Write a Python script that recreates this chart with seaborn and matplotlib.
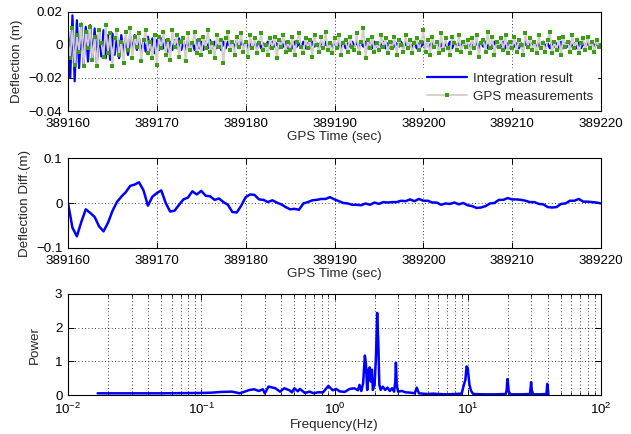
import numpy as np
import pandas as pd
import matplotlib
matplotlib.use("Agg")
import matplotlib.pyplot as plt
import seaborn as sns

# ---------------- data ----------------
t_start, t_end = 389160, 389220

# GPS measurements, mm, every 0.25 s
gps_mm = [
    3, -8, 10, -12, 6, -4, 12, -13, 8, -2, 11, -9, 5, -13, 9, 1, -7, 12, -5, 7,
    -13, 4, 9, -6, 2, -11, 8, -3, 10, -8, 5, -1, 7, -10, 3, 9, -5, 2, -8, 6,
    -12, 5, -2, 8, -6, 3, -9, 9, -1, 6, -7, 2, 4, -10, 7, -3, 1, 8, -5, 3,
    -6, 5, -2, 9, -4, 1, -8, 6, -1, 3, -11, 4, 8, -3, 2, -6, 5, -1, 7, -4,
    2, -7, 6, -2, 4, -5, 1, 7, -3, 0, -6, 4, -2, 5, -8, 3, -1, 6, -4, 2,
    -3, 5, -6, 2, 7, -1, -5, 4, -2, 3, -7, 6, 0, -4, 5, -2, 8, -3, 1, -5,
    4, -2, 6, -6, 1, 3, -4, 5, -1, -3, 7, -5, 2, 10, -8, 3, -2, 5, -4, 1,
    -3, 6, -1, 4, -5, 2, -2, 5, -6, 3, 0, -4, 6, -2, 3, -5, 1, 4, -3, 2,
    9, -4, 3, -6, 5, -1, 2, -5, 7, -3, 4, -2, -6, 5, 1, -3, 6, -4, 2, -1,
    3, -5, 4, -2, 6, -7, 1, 3, -4, 8, -2, 5, -6, 2, -1, 4, -3, 6, -5, 2,
    -2, 5, -4, 3, 0, -6, 7, -1, 4, -3, 2, -5, 6, -2, 1, -4, 3, 8, -5, 2,
    -3, 4, -6, 5, -1, 2, -4, 6, -2, 3, -5, 1, 4, -3, 5, -2, 2, -4, 3, -1, 0,
]

# Integration result, mm, every 0.25 s
integ_mm = [
    8, -20, 18, -22, 15, -14, 13, -12, 11, -10, 12, -9, 10, -11, 8, -7, 9, -8, 6, -9,
    7, -6, 5, -8, 6, -5, 4, -6, 5, -4, 6, -3, 4, -5, 3, -4, 5, -3, 4, -5,
    3, -3, 4, -2, 3, -4, 2, -3, 3, -2, 4, -3, 2, -3, 3, -2, 2, -3, 3, -2,
    2, -3, 2, -2, 3, -2, 2, -2, 1, -3, 2, -2, 2, -1, 2, -2, 3, -2, 2, -1,
    2, -2, 1, -2, 2, -1, 2, -2, 1, -1, 2, -2, 2, -1, 1, -2, 2, -1, 2, -2,
    1, -2, 2, -1, 1, -1, 2, -2, 1, -2, 2, -1, 1, -2, 2, -1, 2, -1, 1, -2,
    2, -1, 1, -2, 2, -2, 1, -1, 2, -1, 2, -2, 1, -1, 2, -2, 1, -2, 2, -1,
    1, -1, 2, -2, 1, -2, 2, -1, 1, -1, 2, -2, 2, -1, 1, -2, 2, -2, 1, -1,
    2, -2, 1, -1, 2, -1, 2, -2, 1, -2, 1, -1, 2, -2, 2, -1, 1, -1, 2, -2,
    1, -2, 2, -1, 2, -2, 1, -1, 2, -2, 1, -2, 2, -1, 1, -1, 2, -2, 1, -2,
    2, -1, 1, -2, 1, -1, 2, -2, 2, -1, 2, -2, 1, -1, 2, -1, 1, -2, 2, -1,
    1, -2, 2, -2, 1, -1, 2, -1, 1, -2, 2, -2, 1, -1, 2, -2, 1, -1, 2, -1, 0,
]

# Deflection difference, m, every 0.5 s
diff_m = [
    0.000, -0.055, -0.074, -0.042, -0.014, -0.022, -0.031, -0.052, -0.063, -0.044,
    -0.018, 0.002, 0.014, 0.024, 0.038, 0.041, 0.046, 0.028, -0.006, 0.014,
    0.022, 0.028, 0.000, -0.019, -0.017, -0.004, 0.008, 0.012, 0.026, 0.019,
    0.027, 0.016, 0.015, 0.007, 0.010, 0.002, -0.004, -0.020, -0.021, -0.006,
    0.013, 0.019, 0.018, 0.008, 0.007, 0.002, 0.006, 0.001, -0.003, -0.009,
    -0.014, -0.013, -0.015, -0.001, 0.002, 0.006, 0.007, 0.009, 0.009, 0.013,
    0.008, 0.004, 0.000, -0.001, -0.004, -0.004, -0.005, -0.001, -0.004, 0.001,
    -0.002, 0.002, 0.001, 0.002, 0.002, 0.005, 0.004, 0.008, 0.004, 0.009,
    0.005, 0.005, 0.001, 0.001, -0.004, -0.001, -0.002, 0.001, -0.003, 0.000,
    -0.005, -0.007, -0.011, -0.010, -0.007, -0.001, 0.000, 0.007, 0.007, 0.011,
    0.008, 0.008, 0.007, 0.005, 0.002, 0.002, -0.002, -0.003, -0.009, -0.010,
    -0.009, -0.002, -0.001, 0.005, 0.005, 0.009, 0.003, 0.003, 0.002, 0.001,
    -0.001,
]

# Spectrum
freq_hz = [
    0.0167, 0.03, 0.05, 0.07, 0.10, 0.12, 0.14, 0.17, 0.195, 0.23,
    0.25, 0.27, 0.29, 0.30, 0.32, 0.36, 0.39, 0.42, 0.46, 0.48,
    0.50, 0.53, 0.55, 0.60, 0.65, 0.70, 0.75, 0.82, 0.90, 0.97,
    1.03, 1.09, 1.19, 1.30, 1.41, 1.50, 1.54, 1.59, 1.64, 1.69,
    1.72, 1.76, 1.80, 1.84, 1.87, 1.91, 1.94, 2.00, 2.05, 2.09,
    2.13, 2.17, 2.22, 2.30, 2.40, 2.50, 2.60, 2.70, 2.80, 2.86,
    2.89, 2.93, 3.00, 3.20, 3.40, 3.70, 4.00, 4.14, 4.30, 4.60,
    5.0, 5.5, 6.0, 7.0, 8.0, 9.0, 9.35, 9.6, 9.8, 10.0,
    10.3, 10.6, 11.0, 13.0, 16.0, 19.3, 19.6, 19.8, 20.0, 20.3,
    21.0, 25.0, 29.3, 29.7, 29.9, 30.2, 31.0, 35.0, 39.0, 39.5,
    39.8, 40.3,
]
power = [
    0.05, 0.05, 0.05, 0.055, 0.06, 0.07, 0.09, 0.10, 0.05, 0.15,
    0.17, 0.12, 0.17, 0.05, 0.25, 0.20, 0.10, 0.20, 0.14, 0.08,
    0.20, 0.11, 0.18, 0.06, 0.10, 0.05, 0.08, 0.08, 0.27, 0.14,
    0.18, 0.11, 0.09, 0.18, 0.20, 0.14, 0.30, 0.12, 0.35, 1.17,
    0.95, 0.15, 0.75, 0.82, 0.40, 0.75, 0.15, 0.30, 1.20, 2.44,
    1.60, 0.30, 0.15, 0.25, 0.15, 0.22, 0.12, 0.20, 0.10, 0.40,
    0.96, 0.30, 0.10, 0.12, 0.08, 0.07, 0.05, 0.22, 0.05, 0.04,
    0.03, 0.04, 0.03, 0.02, 0.03, 0.04, 0.30, 0.45, 0.85, 0.80,
    0.30, 0.12, 0.03, 0.02, 0.02, 0.03, 0.15, 0.47, 0.40, 0.10,
    0.02, 0.02, 0.03, 0.25, 0.38, 0.15, 0.02, 0.02, 0.03, 0.33,
    0.25, 0.02,
]

# ---------------- style ----------------
sns.set_theme(style="white")
plt.rcParams["font.family"] = ["Liberation Sans", "DejaVu Sans"]
FS = 9.6
plt.rcParams["font.size"] = FS
plt.rcParams["axes.labelsize"] = FS
plt.rcParams["xtick.labelsize"] = FS
plt.rcParams["ytick.labelsize"] = FS
plt.rcParams["legend.fontsize"] = FS
plt.rcParams["mathtext.fontset"] = "custom"
plt.rcParams["mathtext.rm"] = "Liberation Sans"
plt.rcParams["mathtext.it"] = "Liberation Sans:italic"

BLUE = "#0000ff"
GRAY = "#d2cec8"
GREEN = "#3c9e14"
GRID = dict(color="black", linestyle=(0, (1, 3)), linewidth=0.6)

fig = plt.figure(figsize=(6.31, 4.34), dpi=100)
L, W = 68 / 631, 533 / 631
ax1 = fig.add_axes([L, 323 / 434, W, 99 / 434])
ax2 = fig.add_axes([L, 186 / 434, W, 90 / 434])
ax3 = fig.add_axes([L, 39 / 434, W, 101 / 434])


def style_axis(ax):
    for s in ax.spines.values():
        s.set_color("black")
        s.set_linewidth(0.8)
    ax.tick_params(direction="in", which="both", top=True, right=True,
                   bottom=True, left=True, colors="black", labelsize=FS)
    ax.tick_params(which="major", length=4, width=0.7)
    ax.tick_params(which="minor", length=2, width=0.6)
    ax.tick_params(axis="x", pad=5)
    ax.tick_params(axis="y", pad=4)


# ---------------- top panel ----------------
t4 = np.linspace(t_start, t_end, len(gps_mm))
df_top = pd.DataFrame({"t": t4,
                       "integ": np.array(integ_mm) / 1000.0,
                       "gps": np.array(gps_mm) / 1000.0})
sns.lineplot(data=df_top, x="t", y="integ", ax=ax1, color=BLUE, lw=1.6,
             sort=False, estimator=None, label="Integration result")
sns.lineplot(data=df_top, x="t", y="gps", ax=ax1, color=GRAY, lw=1.3,
             marker="s", markersize=3.0, markeredgewidth=0,
             markerfacecolor=GREEN, markeredgecolor=GREEN,
             sort=False, estimator=None, label="GPS measurements")
ax1.set_xlim(t_start, t_end)
ax1.set_ylim(-0.04, 0.02)
ax1.set_yticks([-0.04, -0.02, 0, 0.02])
ax1.set_yticklabels(["\u22120.04", "\u22120.02", "0", "0.02"])
ax1.set_xticks(np.arange(t_start, t_end + 1, 10))
ax1.set_xticklabels([str(v) for v in range(t_start, t_end + 1, 10)])
ax1.grid(True, **GRID)
ax1.set_xlabel("GPS Time (sec)", labelpad=1)
ax1.set_ylabel("Deflection (m)", labelpad=4)
leg = ax1.legend(loc="lower right", frameon=True, fancybox=False,
                 facecolor="white", edgecolor="white", framealpha=1,
                 handlelength=3.0, handletextpad=0.4, labelspacing=0.45,
                 borderaxespad=0.3, borderpad=0.3, fontsize=FS, numpoints=1)
style_axis(ax1)

# ---------------- middle panel ----------------
t2 = np.linspace(t_start, t_end, len(diff_m))
df_mid = pd.DataFrame({"t": t2, "d": diff_m})
sns.lineplot(data=df_mid, x="t", y="d", ax=ax2, color=BLUE, lw=1.8,
             sort=False, estimator=None)
ax2.set_xlim(t_start, t_end)
ax2.set_ylim(-0.1, 0.1)
ax2.set_yticks([-0.1, 0, 0.1])
ax2.set_yticklabels(["\u22120.1", "0", "0.1"])
ax2.set_xticks(np.arange(t_start, t_end + 1, 10))
ax2.set_xticklabels([str(v) for v in range(t_start, t_end + 1, 10)])
ax2.grid(True, **GRID)
ax2.set_xlabel("GPS Time (sec)", labelpad=1)
ax2.set_ylabel("Deflection Diff.(m)", labelpad=4)
style_axis(ax2)

# ---------------- bottom panel ----------------
df_sp = pd.DataFrame({"f": freq_hz, "p": power})
sns.lineplot(data=df_sp, x="f", y="p", ax=ax3, color=BLUE, lw=1.8,
             sort=False, estimator=None)
ax3.set_xscale("log")
ax3.set_xlim(1e-2, 1e2)
ax3.set_ylim(0, 3)
ax3.set_yticks([0, 1, 2, 3])
ax3.grid(True, which="major", **GRID)
ax3.grid(True, which="minor", axis="x", **GRID)
ax3.set_xlabel("Frequency(Hz)", labelpad=1)
ax3.set_ylabel("Power", labelpad=10)
style_axis(ax3)

fig.savefig("out.png", dpi=100)
